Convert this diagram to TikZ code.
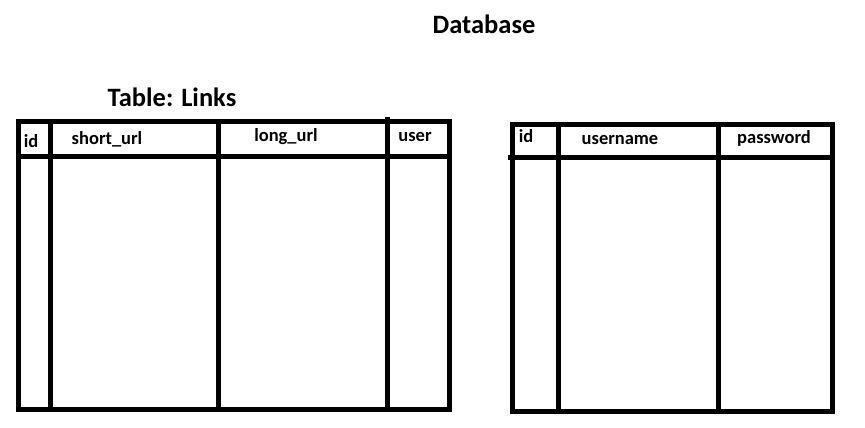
\documentclass[tikz,border=0pt]{standalone}
\usepackage{fontspec}
\setmainfont{Carlito}
\tikzset{
  grid/.style={draw=black,line width=5pt},
  title/.style={font=\bfseries\fontsize{26.5}{28}\selectfont},
  head/.style={font=\bfseries\fontsize{18.5}{20}\selectfont}
}
\tikzstyle{every node}=[color=black,inner sep=0pt]

\begin{document}
\begin{tikzpicture}[x=1pt,y=-1pt]
    \useasboundingbox (0,0) rectangle (865,428);
    \node [title] (db) at (484,24) {Database};
    \node [title] (links) at (172,97) {Table: Links};
    % Links table
    \draw [grid] (18.5,121.5) rectangle (449.5,409.5);
    \draw [grid] (18.5,156) -- (452,156);
    \draw [grid] (50,121.5) -- (50,409.5);
    \draw [grid] (218.5,121.5) -- (218.5,409.5);
    \draw [grid] (387.5,117) -- (387.5,409.5);
    \node [head] (lid) at (31,141) {id};
    \node [head] (short) at (107,139) {short\_url};
    \node [head] (long) at (286,137) {long\_url};
    \node [head] (user) at (415,137) {user};
    % Users table
    \draw [grid] (512.5,124) rectangle (832.5,411);
    \draw [grid] (508,157) -- (835,157);
    \draw [grid] (558.5,124) -- (558.5,411);
    \draw [grid] (718,124) -- (718,414);
    \node [head] (uid) at (526,136) {id};
    \node [head] (uname) at (620,140) {username};
    \node [head] (pass) at (774,138) {password};
\end{tikzpicture}
\end{document}
